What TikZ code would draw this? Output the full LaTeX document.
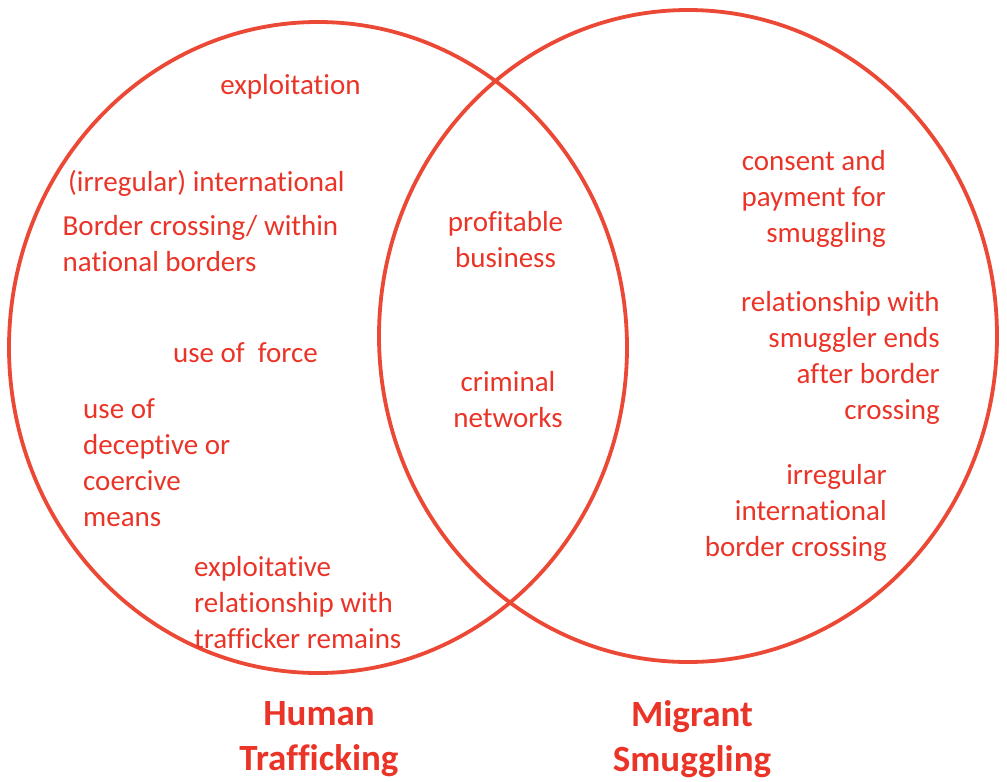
\documentclass[tikz,border=0pt]{standalone}
\usepackage{fontspec}
\setmainfont{Carlito}[Ligatures={NoCommon,NoDiscretionary}]
\usepackage{tikz}
\usetikzlibrary{
    positioning,
    shapes.geometric
}
\usepackage{xcolor}
\definecolor{vennred}{RGB}{236,72,54}
\definecolor{labelred}{RGB}{234,52,40}

\begin{document}
\begin{tikzpicture}[
    x=1pt, y=-1pt,
    venn/.style={ellipse, draw=vennred, line width=3.8pt, inner sep=0pt, minimum width=618pt},
    lbl/.style={text=labelred, font=\fontsize{29}{36}\selectfont, inner sep=0pt},
    title/.style={text=labelred, font=\fontsize{37}{45}\selectfont\bfseries, align=center, inner sep=0pt}
]
\useasboundingbox (0,0) rectangle (1007,782);

% the two sets
\node[venn, minimum height=651pt] (trafficking) at (318,347.5) {};
\node[venn, minimum height=652pt] (smuggling) at (688,336) {};

% human trafficking only
\node[lbl] (exploit) at (290.5,86.5) {exploitation};
\node[lbl, anchor=west] (irregular) at (68,183) {(irregular) international};
\node[lbl, anchor=west, align=left] (borders) at (62.5,243.5) {Border crossing/ within\\national borders};
\node[lbl] (force) at (245.5,353) {use of\ \ force};
\node[lbl, anchor=west, align=left] (deceptive) at (83,463) {use of\\deceptive or\\coercive\\means};
\node[lbl, anchor=west, align=left] (remains) at (194,603) {exploitative\\relationship with\\trafficker remains};

% overlap
\node[lbl, align=center] (profit) at (505.5,240) {profitable\\business};
\node[lbl, align=center] (networks) at (508,400) {criminal\\networks};

% migrant smuggling only
\node[lbl, anchor=east, align=right] (consent) at (886,199) {consent and\\payment for\\smuggling};
\node[lbl, anchor=east, align=right] (ends) at (940,358) {relationship with\\smuggler ends\\after border\\crossing};
\node[lbl, anchor=east, align=right] (crossing) at (887,513) {irregular\\international\\border crossing};

% set names
\node[title] (ht-title) at (319,739) {Human\\Trafficking};
\node[title] (ms-title) at (692,739) {Migrant\\Smuggling};

\end{tikzpicture}
\end{document}
